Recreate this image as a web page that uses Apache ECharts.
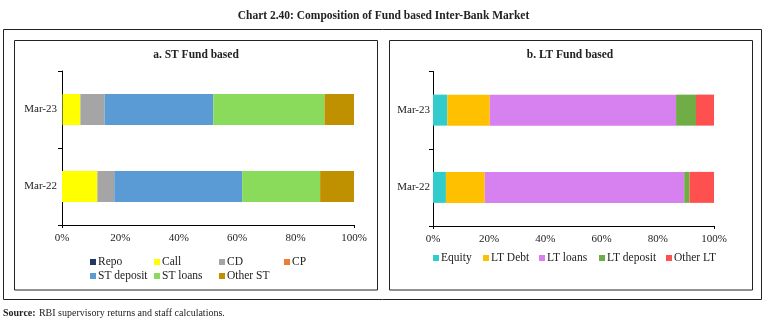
<!DOCTYPE html>
<html><head><meta charset="utf-8">
<script src="https://cdn.jsdelivr.net/npm/echarts@6/dist/echarts.min.js"></script>
<style>html,body{margin:0;padding:0;background:#fff}#c{width:767px;height:323px}</style>
</head><body><div id="c"></div>
<script>
const categories = ['Mar-22', 'Mar-23'];
const xTicks = ['0%', '20%', '40%', '60%', '80%', '100%'];

// Panel a: ST Fund based (share, %)
const stNames = ['Repo', 'Call', 'CD', 'CP', 'ST deposit', 'ST loans', 'Other ST'];
const repo      = [0.0, 0.2];
const call      = [12.1, 6.1];
const cd        = [5.8, 8.3];
const cp        = [0.0, 0.0];
const stDeposit = [43.8, 37.2];
const stLoans   = [26.7, 38.1];
const otherST   = [11.6, 10.1];

// Panel b: LT Fund based (share, %)
const ltNames = ['Equity', 'LT Debt', 'LT loans', 'LT deposit', 'Other LT'];
const equity    = [4.6, 5.1];
const ltDebt    = [13.8, 15.1];
const ltLoans   = [71.0, 66.3];
const ltDeposit = [1.9, 7.1];
const otherLT   = [8.7, 6.4];

const stData = [repo, call, cd, cp, stDeposit, stLoans, otherST];
const ltData = [equity, ltDebt, ltLoans, ltDeposit, otherLT];
const stColors = ['#1F3864', '#FFFF00', '#A5A5A5', '#ED7D31', '#5B9BD5', '#8ADB5B', '#BF9000'];
const ltColors = ['#33CCCC', '#FFC000', '#D780F0', '#70AD47', '#FF5050'];

const FONT = '"Liberation Serif", "DejaVu Serif", serif';
const chart = echarts.init(document.getElementById('c'), null, {renderer: 'canvas'});

const series = [];
stNames.forEach((n, i) => series.push({
  name: n, type: 'bar', stack: 'st', xAxisIndex: 0, yAxisIndex: 0,
  barWidth: 31, data: stData[i], itemStyle: {color: stColors[i]}
}));
ltNames.forEach((n, i) => series.push({
  name: n, type: 'bar', stack: 'lt', xAxisIndex: 1, yAxisIndex: 1,
  barWidth: 31, data: ltData[i], itemStyle: {color: ltColors[i]}
}));

// legends positioned individually
const stLegendPos = [[90, 256], [154, 256], [219, 256], [284, 256], [90, 270], [154, 270], [219, 270]];
const ltLegendPos = [[433, 252], [483, 252], [539, 252], [599, 252], [666, 252]];
const legends = [];
stNames.forEach((n, i) => legends.push({
  data: [n], left: stLegendPos[i][0], top: stLegendPos[i][1], itemWidth: 6, itemHeight: 6,
  icon: 'rect', itemGap: 0, padding: 0,
  textStyle: {fontFamily: FONT, fontSize: 11.5, color: '#222', padding: [0, 0, 0, -3]}
}));
ltNames.forEach((n, i) => legends.push({
  data: [n], left: ltLegendPos[i][0], top: ltLegendPos[i][1], itemWidth: 6, itemHeight: 6,
  icon: 'rect', itemGap: 0, padding: 0,
  textStyle: {fontFamily: FONT, fontSize: 11.5, color: '#222', padding: [0, 0, 0, -3]}
}));

function xAxis(idx) {
  return {
    type: 'value', gridIndex: idx, min: 0, max: 100, interval: 20,
    axisLine: {show: true, lineStyle: {color: '#000', width: 1}},
    axisTick: {show: true, length: 3, customValues: [0, 100], lineStyle: {color: '#000'}},
    splitLine: {show: false},
    axisLabel: {fontFamily: FONT, fontSize: 11, color: '#222', margin: 8,
      formatter: v => xTicks[Math.round(v / 20)]}
  };
}
function yAxis(idx, margin) {
  return {
    type: 'category', gridIndex: idx, data: categories,
    axisLine: {show: true, lineStyle: {color: '#000', width: 1}},
    axisTick: {show: true, length: 4, lineStyle: {color: '#000'}},
    axisLabel: {fontFamily: FONT, fontSize: 11, color: '#222', margin: margin}
  };
}

chart.setOption({
  animation: false,
  backgroundColor: '#fff',
  grid: [
    {left: 62, right: 413, top: 71, bottom: 98},
    {left: 433, right: 53, top: 71.5, bottom: 97}
  ],
  xAxis: [xAxis(0), xAxis(1)],
  yAxis: [yAxis(0, 5), yAxis(1, 3)],
  legend: legends,
  series: series,
  graphic: [
    {type: 'text', left: 'center', top: 10, style: {text: 'Chart 2.40: Composition of Fund based Inter-Bank Market',
      font: 'bold 11.5px ' + FONT, fill: '#222'}},
    {type: 'rect', shape: {x: 3.5, y: 29.5, width: 758, height: 270}, style: {fill: 'none', stroke: '#222', lineWidth: 1}},
    {type: 'rect', shape: {x: 14.5, y: 40.5, width: 363, height: 249.5}, style: {fill: 'none', stroke: '#222', lineWidth: 1}},
    {type: 'rect', shape: {x: 389.5, y: 40.5, width: 363, height: 249.5}, style: {fill: 'none', stroke: '#222', lineWidth: 1}},
    {type: 'text', x: 196, y: 49, style: {text: 'a. ST Fund based', font: 'bold 11.5px ' + FONT, fill: '#222', align: 'center'}},
    {type: 'text', x: 570, y: 49, style: {text: 'b. LT Fund based', font: 'bold 11.5px ' + FONT, fill: '#222', align: 'center'}},
    {type: 'text', x: 3, y: 307, style: {
      text: '{b|Source:} {n|RBI supervisory returns and staff calculations.}',
      rich: {b: {font: 'bold 10px ' + FONT, fill: '#222'}, n: {font: '10px ' + FONT, fill: '#222'}}}}
  ]
});
</script>
</body></html>
